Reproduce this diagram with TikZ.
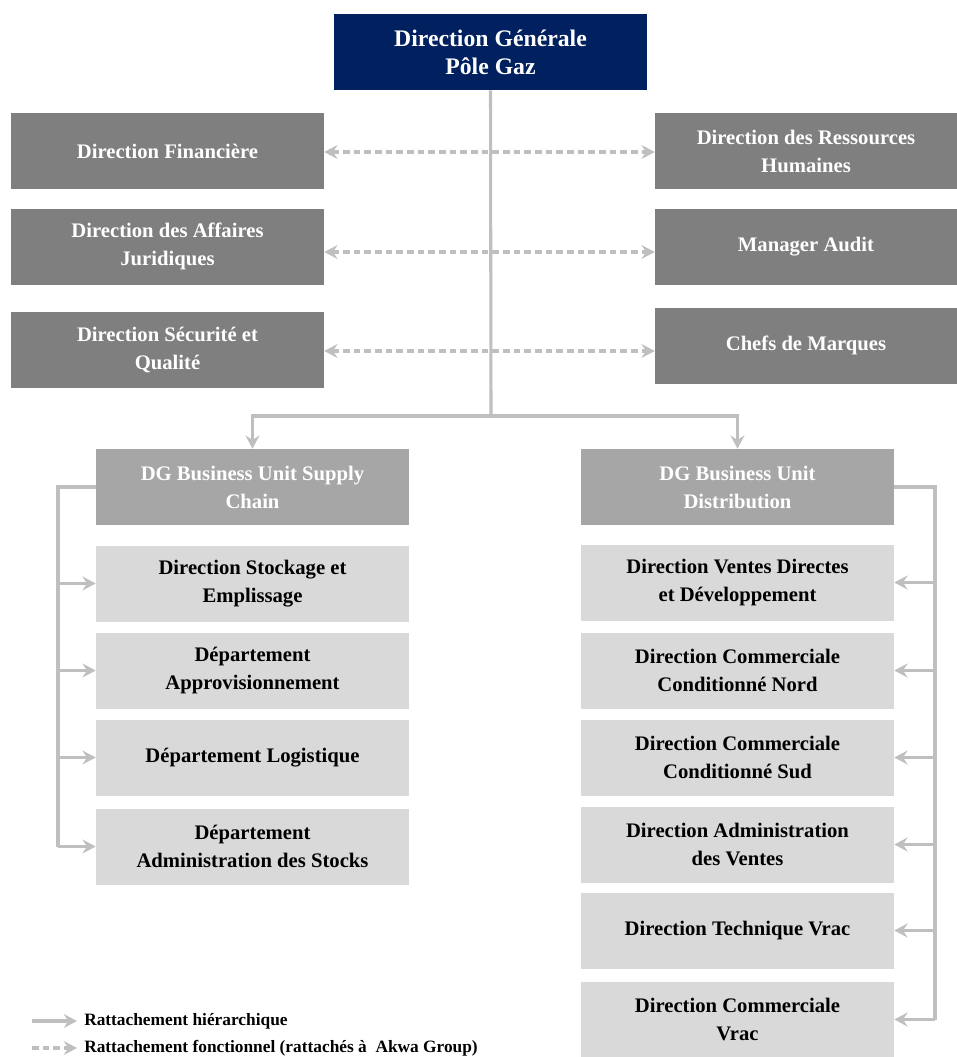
\documentclass[tikz,border=0pt]{standalone}
\usepackage{fontspec}
\setmainfont{Liberation Serif}
\usetikzlibrary{arrows.meta,calc}
\definecolor{navy}{HTML}{002060}
\definecolor{darkbox}{HTML}{7F7F7F}
\definecolor{midbox}{HTML}{A6A6A6}
\definecolor{lightbox}{HTML}{D9D9D9}
\definecolor{linkgray}{HTML}{BFBFBF}
\begin{document}
\begin{tikzpicture}[x=0.75pt, y=-0.75pt,
	box/.style={rectangle, inner sep=0pt, minimum width=234.75pt, minimum height=57pt, align=center, font=\bfseries\fontsize{15.5}{21}\selectfont},
	topbox/.style={box, fill=navy, text=white, font=\bfseries\fontsize{17.8}{21}\selectfont},
	staff/.style={box, fill=darkbox, text=white},
	unit/.style={box, fill=midbox, text=white},
	dept/.style={box, fill=lightbox, text=black},
	link/.style={draw=linkgray, line width=2.3pt},
	hier/.style={link, -{Stealth[length=10pt, width=10.5pt, inset=3.5pt]}},
	func/.style={link, dash pattern=on 5pt off 3pt, {Stealth[length=10pt, width=10.5pt, inset=3.5pt]}-{Stealth[length=10pt, width=10.5pt, inset=3.5pt]}},
	legend/.style={anchor=west, inner sep=0pt, font=\bfseries\fontsize{13}{15}\selectfont}]
	\useasboundingbox (0,0) rectangle (957,1057);
	% top
	\node[topbox] at (490.5,52) (dg) {Direction Générale\\Pôle Gaz};
	% staff functions
	\node[staff] at (167.5,151) (l1) {Direction Financière};
	\node[staff] at (167.5,246.5) (l2) {Direction des Affaires\\Juridiques};
	\node[staff] at (167.5,349.5) (l3) {Direction Sécurité et\\Qualité};
	\node[staff, minimum width=226.5pt] at (806,151) (r1) {Direction des Ressources\\Humaines};
	\node[staff, minimum width=226.5pt] at (806,246.5) (r2) {Manager Audit};
	\node[staff, minimum width=226.5pt] at (806,345.5) (r3) {Chefs de  Marques};
	% business units
	\node[unit] at (252.5,487) (bu1) {DG Business Unit Supply\\Chain};
	\node[unit] at (737.5,487) (bu2) {DG Business Unit\\Distribution};
	% supply chain
	\node[dept] at (252.5,583.5) (s1) {Direction Stockage et\\Emplissage};
	\node[dept] at (252.5,670.5) (s2) {Département\\Approvisionnement};
	\node[dept] at (252.5,757.5) (s3) {Département Logistique};
	\node[dept] at (252.5,846.5) (s4) {Département\\Administration des Stocks};
	% distribution
	\node[dept] at (737.5,582.5) (d1) {Direction Ventes Directes\\et Développement};
	\node[dept] at (737.5,670.5) (d2) {Direction Commerciale\\Conditionné Nord};
	\node[dept] at (737.5,757.5) (d3) {Direction Commerciale\\Conditionné Sud};
	\node[dept] at (737.5,844.5) (d4) {Direction Administration\\des Ventes};
	\node[dept] at (737.5,930.5) (d5) {Direction Technique Vrac};
	\node[dept] at (737.5,1019.5) (d6) {Direction Commerciale\\Vrac};
	% links
	\coordinate (split) at (491,416);
	\coordinate (busl) at (58,0);
	\coordinate (busr) at (935,0);
	\draw[link] (dg.south) -- (split);
	\draw[hier] (split) -| (bu1.north);
	\draw[hier] (split) -| (bu2.north);
	\draw[func] ($(l1.east)+(0,1)$) -- ($(r1.west)+(0,1)$);
	\draw[func] (l2.east |- 0,252) -- (r2.west |- 0,252);
	\draw[func] (l3.east |- 0,351) -- (r3.west |- 0,351);
	\draw[link] (bu1.west) -- (busl |- bu1.west) -- (busl |- s4.west);
	\foreach \i in {1,...,4}
		\draw[hier] (busl |- s\i.west) -- (s\i.west);
	\draw[link] (bu2.east) -- (busr |- bu2.east) -- (busr |- d6.east);
	\foreach \i in {1,...,6}
		\draw[hier] (busr |- d\i.east) -- (d\i.east);
	% legend
	\node[legend] at (84,1021) (leg1) {Rattachement hiérarchique};
	\node[legend] at (84,1048) (leg2) {Rattachement fonctionnel (rattachés à~ Akwa Group)};
	\coordinate (k1) at (32,1021);
	\coordinate (k2) at (32,1048);
	\draw[hier] (k1) -- ($(leg1.west)+(-7,0)$);
	\draw[link, dash pattern=on 5pt off 3pt, -{Stealth[length=10pt, width=10.5pt, inset=3.5pt]}] (k2) -- ($(leg2.west)+(-7,0)$);
\end{tikzpicture}
\end{document}
